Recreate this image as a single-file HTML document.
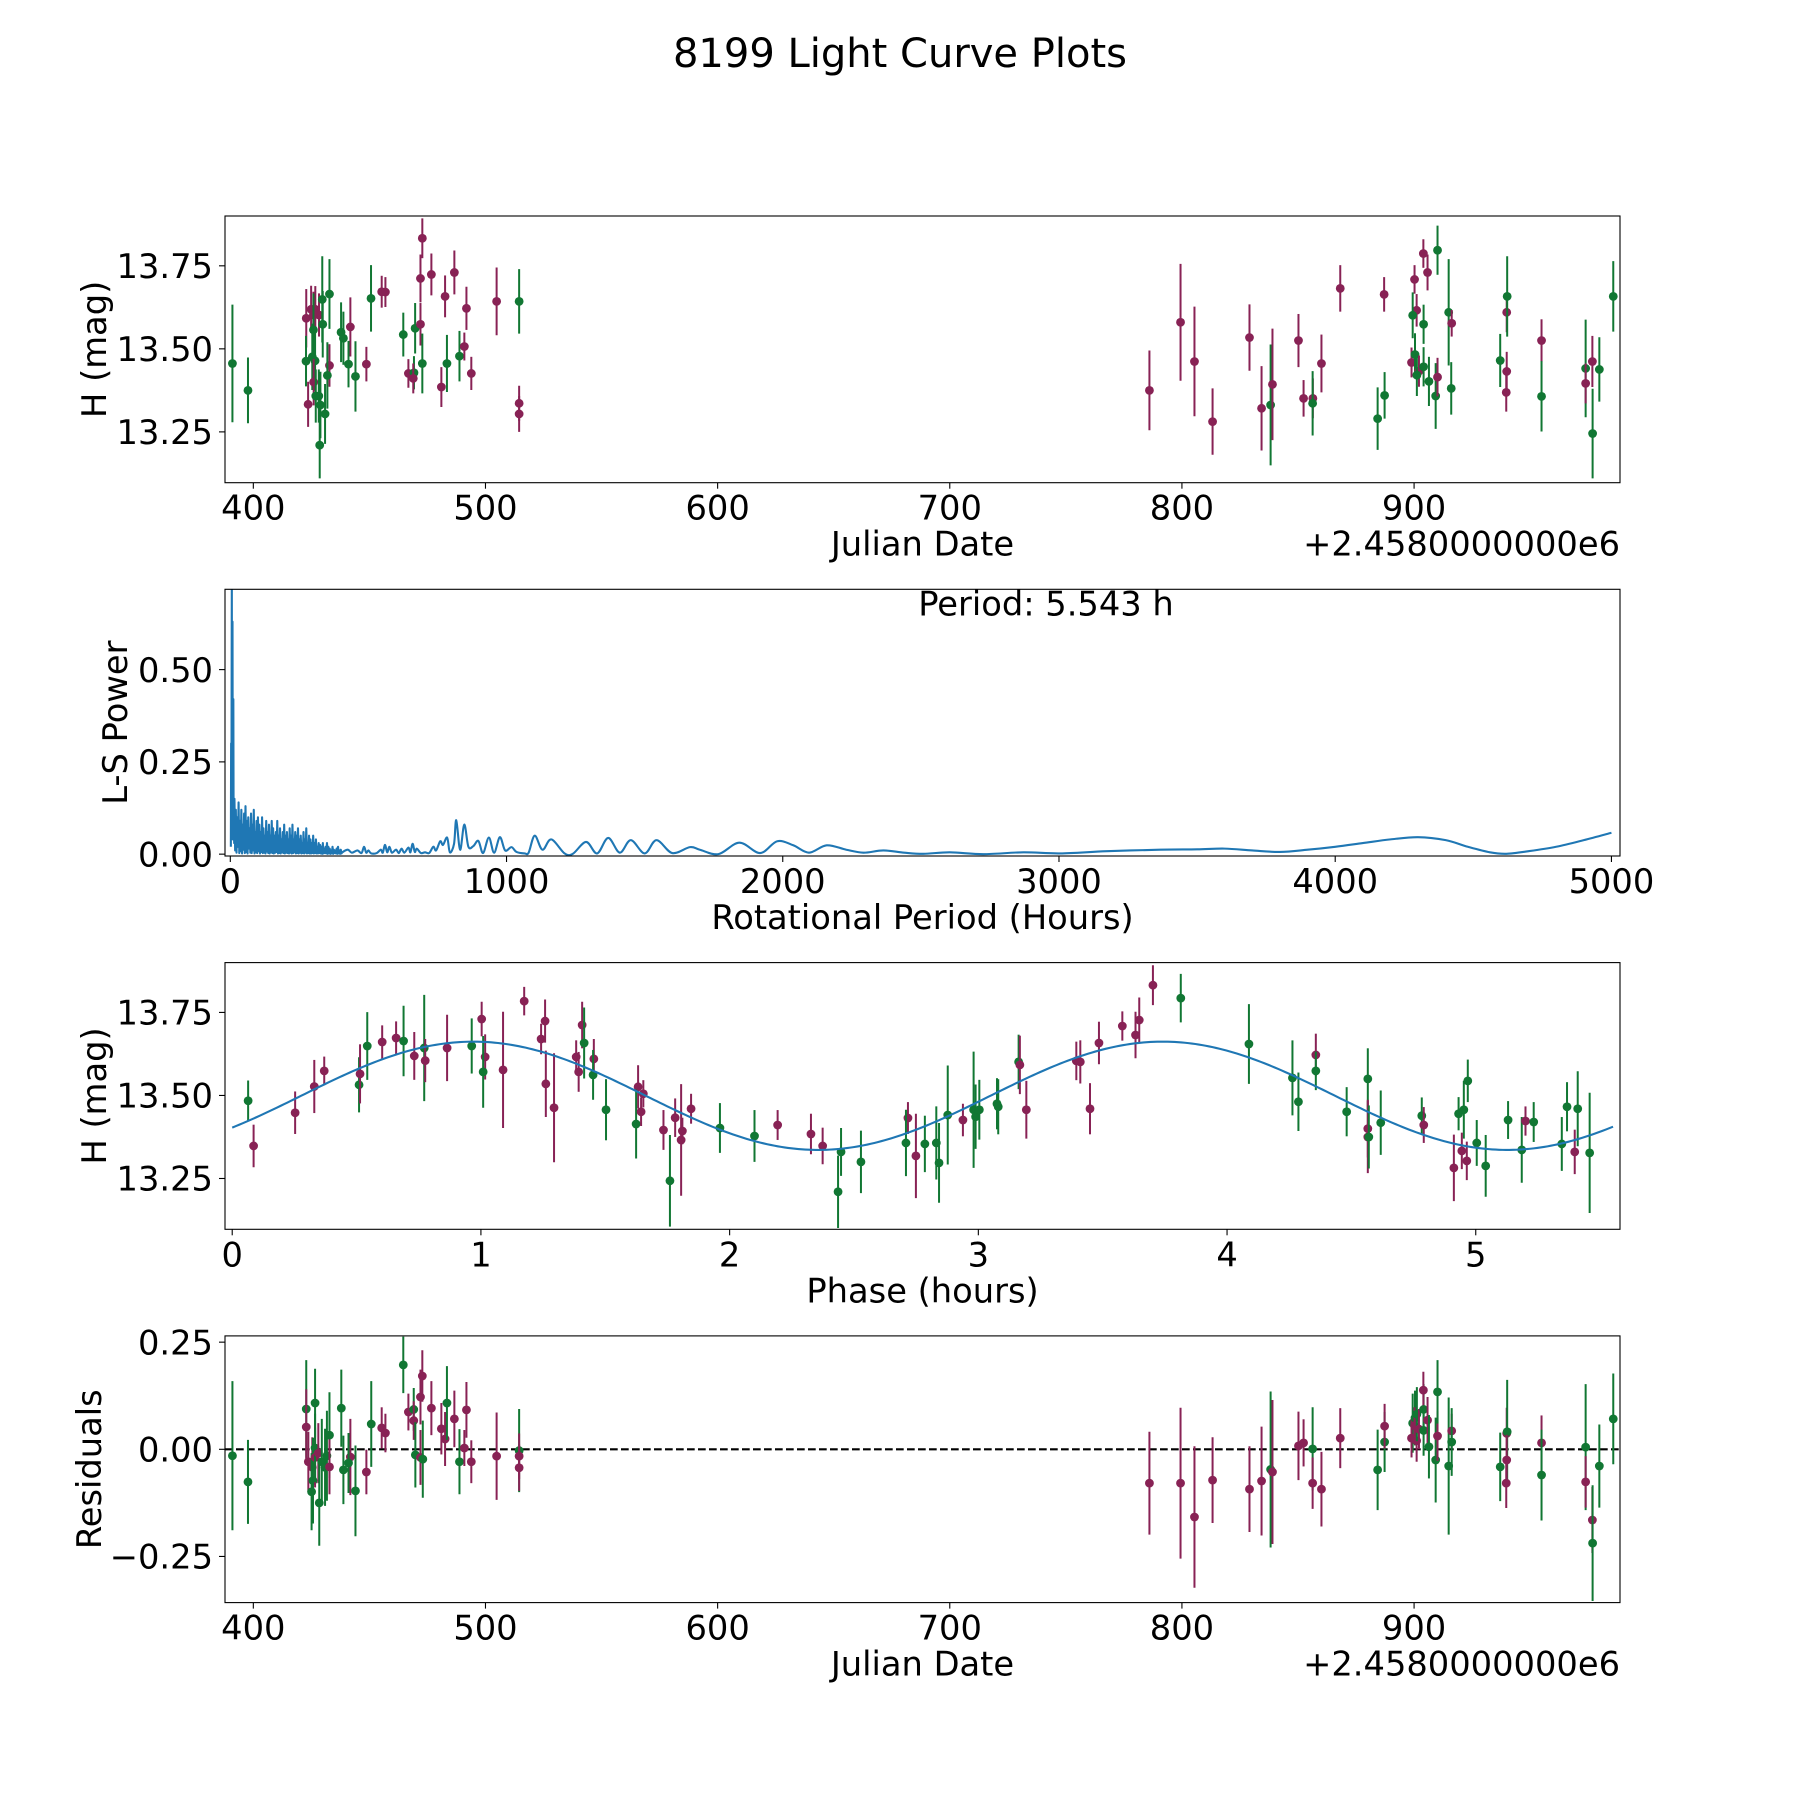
<!DOCTYPE html>
<html><head><meta charset="utf-8"><title>8199 Light Curve Plots</title>
<style>html,body{margin:0;padding:0;background:#fff}svg{display:block;font-family:"DejaVu Sans","Liberation Sans",sans-serif}</style>
</head><body>
<svg id="fig" xmlns="http://www.w3.org/2000/svg" width="1800" height="1800" viewBox="0 0 1800 1800">
<rect x="0" y="0" width="1800" height="1800" fill="#fff"/>
<text x="900" y="67" font-size="40" text-anchor="middle">8199 Light Curve Plots</text>
</svg>
<script>
// ---------- Panel 1: light curve (JD offset 2458000) ----------
const lcJD   = [391.0,397.7,422.8,422.7,423.6,424.9,426.7,425.9,428.3,425.9,425.4,426.6,426.0,426.9,428.2,428.6,429.7,429.9,428.9,430.9,432.8,432.8,431.9,437.8,438.8,441.8,441.0,444.0,448.7,450.7,455.3,456.9,464.6,466.8,469.2,468.9,469.7,472.0,472.0,472.8,472.8,476.7,481.0,482.6,483.4,486.6,488.8,490.9,491.8,493.9,504.8,514.5,514.5,514.5,
786.0,799.4,805.4,813.2,829.1,834.3,838.2,839.0,850.2,852.4,856.4,856.3,860.1,868.2,887.1,884.3,887.3,900.2,901.1,899.4,898.9,900.4,902.1,901.2,904.1,904.0,905.8,904.1,906.4,909.3,910.1,910.1,914.9,916.2,916.0,937.1,939.9,940.1,939.9,939.7,954.9,954.9,973.9,973.9,976.8,976.9,979.8,985.8];
const lcMag  = [13.456,13.375,13.592,13.463,13.333,13.619,13.619,13.602,13.602,13.557,13.476,13.464,13.400,13.358,13.358,13.210,13.649,13.574,13.331,13.304,13.665,13.450,13.420,13.550,13.532,13.566,13.454,13.417,13.454,13.652,13.672,13.671,13.543,13.426,13.428,13.411,13.562,13.574,13.712,13.833,13.456,13.724,13.385,13.658,13.456,13.730,13.478,13.507,13.622,13.426,13.643,13.643,13.336,13.304,
13.375,13.580,13.462,13.281,13.534,13.321,13.331,13.393,13.525,13.351,13.351,13.336,13.456,13.682,13.664,13.290,13.360,13.709,13.616,13.601,13.459,13.483,13.433,13.421,13.574,13.787,13.730,13.446,13.402,13.358,13.415,13.797,13.610,13.577,13.381,13.465,13.610,13.658,13.432,13.369,13.525,13.357,13.441,13.396,13.462,13.245,13.438,13.658];
const lcErr  = [0.177,0.099,0.088,0.076,0.068,0.071,0.07,0.07,0.065,0.11,0.1,0.09,0.07,0.08,0.08,0.1,0.13,0.1,0.1,0.09,0.105,0.064,0.1,0.09,0.08,0.089,0.07,0.106,0.052,0.1,0.048,0.045,0.066,0.043,0.05,0.045,0.076,0.064,0.072,0.06,0.09,0.063,0.06,0.063,0.086,0.066,0.076,0.042,0.065,0.05,0.102,0.097,0.053,0.054,
0.12,0.176,0.165,0.1,0.1,0.127,0.182,0.168,0.08,0.055,0.06,0.097,0.087,0.07,0.052,0.094,0.07,0.043,0.049,0.069,0.045,0.064,0.047,0.063,0.059,0.043,0.054,0.059,0.074,0.099,0.058,0.074,0.16,0.04,0.079,0.08,0.06,0.121,0.059,0.058,0.064,0.106,0.147,0.06,0.077,0.135,0.097,0.106];
const lcBand = ["g","g","m","g","m","m","m","m","m","g","g","g","m","g","g","g","g","g","g","g","g","m","g","g","g","m","g","g","m","g","m","m","g","m","g","m","g","m","m","m","g","m","m","m","g","m","g","m","m","m","m","g","m","m",
"m","m","m","m","m","m","g","m","m","m","m","g","m","m","m","g","g","m","m","g","m","g","m","g","g","m","m","g","g","g","m","g","g","m","g","g","m","g","m","m","m","g","g","m","m","g","g","g"];

// ---------- Panel 2: Lomb-Scargle periodogram ----------
const lsHeadPeriod = [2,3,4,5,5.543,6,7,8,9,10,11,12,13,14];
const lsHeadPower  = [0.02,0.30,0.08,0.55,0.74,0.20,0.05,0.63,0.04,0.15,0.42,0.06,0.14,0.03];
const lsNoiseStart = 15, lsNoiseStep = 5;
const lsNoisePeaks = [.15,.12,.10,.14,.09,.12,.08,.11,
.13,.09,.10,.07,.11,.08,.12,.06,.09,.10,
.08,.06,.10,.07,.05,.09,.06,.08,.05,.09,
.07,.05,.06,.09,.05,.07,.04,.06,.08,.05,
.06,.04,.07,.05,.08,.04,.06,.05,.07,.04,
.05,.03,.06,.04,.07,.03,.05,.04,.03,.05,
.03,.04,.02,.03,.025,.02,.03,.015,.02,.03,
.02,.015,.01,.02,.012,.01,.015,.02,.01,.012];
const lsNoiseTroughs = [.01,.004,.02,.003,.008,.002,.012,.003,
.006,.002,.015,.004,.003,.01,.002,.005,.003,.008,
.002,.006,.003,.004,.002,.007,.003,.002,.005,.003,
.002,.004,.006,.002,.003,.002,.005,.003,.002,.004,
.003,.002,.004,.002,.003,.005,.002,.003,.002,.004,
.002,.003,.002,.004,.002,.003,.002,.002,.003,.002,
.003,.002,.002,.003,.002,.001,.002,.003,.002,.001,
.002,.001,.002,.001,.003,.002,.001,.002,.001,.002];
const lsTailPeriod = [405,425,440,460,475,484,492,500,510,530,545,552,560,568,576,585,600,610,620,630,645,652,660,668,675,690,705,720,735,745,760,770,785,795,810,818,832,847,862,880,898,915,936,955,976,995,1018,1036,1066,1080,1102,1130,1162,1210,1240,1288,1328,1368,1410,1450,1500,1543,1600,1664,1700,1767,1843,1918,1980,2038,2095,2159,2230,2292,2364,2440,2509,2605,2726,2871,3004,3173,3366,3500,3600,3700,3800,3900,4000,4100,4200,4300,4400,4480,4560,4620,4700,4800,4900,5000];
const lsTailPower  = [0.005,0.012,0.004,0.01,0.003,0.02,0.004,0.01,0.002,0.003,0.012,0.004,0.025,0.005,0.02,0.004,0.012,0.003,0.015,0.004,0.018,0.005,0.028,0.006,0.015,0.003,0.005,0.003,0.02,0.01,0.035,0.025,0.045,0.005,0.028,0.092,0.012,0.08,0.02,0.022,0.036,0.003,0.045,0.004,0.046,0.01,0.019,0.006,0.002,0.004,0.05,0.012,0.04,0.002,0.001,0.033,0.002,0.044,0.004,0.038,0.002,0.038,0.003,0.019,0.012,0.0,0.031,0.003,0.035,0.024,0.004,0.024,0.012,0.004,0.01,0.004,0.001,0.005,0.0,0.005,0.002,0.008,0.012,0.013,0.015,0.01,0.006,0.012,0.02,0.03,0.04,0.046,0.038,0.02,0.005,0.001,0.008,0.02,0.038,0.058];
const lsLabel = "Period: 5.543 h";

// ---------- Panel 3: phased light curve ----------
const phPhase = [0.064,0.086,0.253,0.330,0.370,0.510,0.514,0.543,0.603,0.659,0.689,0.732,0.772,0.776,0.864,0.963,1.003,1.017,1.009,1.089,1.174,1.242,1.258,1.261,1.294,1.383,1.393,1.407,1.415,1.454,1.451,1.503,1.632,1.653,1.624,1.644,1.734,1.760,1.781,1.810,1.805,1.845,
1.961,2.100,2.193,2.327,2.374,2.448,2.436,2.528,2.717,2.709,2.749,2.785,2.831,2.842,2.877,2.938,2.981,2.989,3.004,3.075,3.080,3.162,3.167,3.193,3.394,3.410,3.449,3.485,3.579,3.632,3.647,3.702,
3.814,4.088,4.263,4.287,4.357,4.357,4.481,4.566,4.566,4.566,4.570,4.618,4.783,4.791,4.912,4.931,4.952,4.944,4.964,4.968,5.004,5.040,5.130,5.185,5.200,5.233,5.346,5.367,5.398,5.410,5.458];
const phMag = [13.484,13.348,13.448,13.527,13.574,13.532,13.565,13.649,13.661,13.673,13.664,13.619,13.643,13.605,13.643,13.649,13.730,13.616,13.571,13.577,13.784,13.670,13.724,13.535,13.463,13.616,13.571,13.712,13.658,13.610,13.562,13.457,13.526,13.505,13.414,13.451,13.396,13.243,13.433,13.393,13.366,13.460,
13.402,13.378,13.411,13.384,13.348,13.330,13.210,13.300,13.432,13.357,13.318,13.354,13.357,13.297,13.441,13.426,13.457,13.436,13.457,13.475,13.466,13.601,13.592,13.457,13.604,13.601,13.460,13.658,13.709,13.682,13.727,13.832,
13.793,13.655,13.553,13.481,13.622,13.574,13.451,13.550,13.400,13.375,13.375,13.418,13.439,13.411,13.282,13.445,13.457,13.333,13.303,13.544,13.357,13.288,13.426,13.336,13.423,13.420,13.354,13.466,13.330,13.460,13.327];
const phErr = [0.061,0.064,0.064,0.08,0.043,0.083,0.089,0.102,0.05,0.05,0.106,0.072,0.16,0.065,0.1,0.083,0.052,0.068,0.108,0.175,0.043,0.046,0.065,0.1,0.164,0.05,0.06,0.07,0.107,0.06,0.075,0.092,0.065,0.041,0.104,0.043,0.06,0.138,0.058,0.04,0.168,0.045,
0.075,0.078,0.045,0.061,0.055,0.072,0.109,0.094,0.048,0.1,0.127,0.085,0.11,0.12,0.149,0.049,0.175,0.097,0.09,0.077,0.083,0.082,0.088,0.087,0.058,0.065,0.077,0.064,0.044,0.07,0.068,0.06,
0.073,0.12,0.113,0.088,0.064,0.058,0.074,0.092,0.087,0.109,0.095,0.097,0.055,0.054,0.1,0.05,0.087,0.055,0.058,0.064,0.069,0.093,0.057,0.099,0.044,0.06,0.081,0.074,0.067,0.113,0.181];
const phBand = ["g","m","m","m","m","g","m","g","m","m","g","m","g","m","m","g","m","m","g","m","m","m","m","m","m","m","m","m","g","m","g","g","m","m","g","m","m","g","m","m","m","m",
"g","g","m","m","m","g","g","g","m","g","m","g","g","g","g","m","g","g","g","g","g","g","m","m","m","m","m","m","m","m","m","m",
"g","g","g","g","m","g","g","g","m","m","g","g","g","m","m","g","g","m","m","g","g","g","g","g","m","g","g","g","m","g","g"];
const fitMean = 13.499, fitAmp = 0.163, fitPeriod = 2.7715, fitPhase0 = 0.277, fitStart = 0, fitEnd = 5.552;

// ---------- Panel 4: residuals ----------
const rsJD = [391.0,397.7,422.8,422.8,423.7,426.6,425.4,425.7,425.1,426.6,426.6,428.0,428.4,429.5,430.9,431.7,432.8,432.8,437.9,438.8,441.8,441.0,444.0,448.7,450.8,455.3,456.9,464.6,466.8,469.1,469.1,469.8,472.0,472.8,472.0,473.0,476.7,481.0,482.6,483.4,486.6,488.8,490.9,491.8,493.9,504.8,514.5,514.5,514.5,
786.0,799.4,805.4,813.2,829.1,834.3,838.2,839.0,850.2,852.4,856.3,856.3,860.1,868.2,884.3,887.3,887.3,899.4,898.9,900.4,900.2,901.1,901.2,902.1,904.1,904.0,904.1,905.8,906.4,909.3,910.1,910.1,914.9,916.2,916.2,937.1,939.9,940.1,939.9,939.7,954.9,954.9,973.9,973.9,976.8,976.9,979.8,985.8];
const rsVal = [-0.015,-0.076,0.094,0.052,-0.029,0.108,-0.042,-0.073,-0.099,-0.019,0.003,-0.009,-0.125,-0.029,-0.042,-0.015,0.033,-0.041,0.096,-0.048,-0.018,-0.032,-0.097,-0.053,0.059,0.05,0.038,0.197,0.087,0.093,0.067,-0.013,0.122,0.171,-0.019,-0.023,0.096,0.048,0.024,0.108,0.071,-0.029,0.003,0.092,-0.029,-0.016,-0.003,-0.016,-0.043,
-0.079,-0.079,-0.158,-0.072,-0.093,-0.074,-0.047,-0.053,0.008,0.015,0.001,-0.079,-0.093,0.026,-0.048,0.017,0.054,0.061,0.026,0.073,0.055,0.02,0.082,0.047,0.093,0.138,0.044,0.068,0.006,-0.025,0.031,0.134,-0.039,0.043,0.017,-0.041,0.037,0.041,-0.025,-0.079,0.015,-0.06,0.005,-0.076,-0.165,-0.219,-0.039,0.071];
const rsErr = [0.174,0.098,0.114,0.088,0.07,0.08,0.07,0.1,0.09,0.07,0.08,0.07,0.1,0.1,0.09,0.105,0.1,0.064,0.09,0.08,0.089,0.07,0.106,0.052,0.1,0.048,0.045,0.066,0.043,0.05,0.045,0.076,0.064,0.06,0.064,0.09,0.063,0.06,0.063,0.086,0.066,0.076,0.042,0.065,0.05,0.102,0.097,0.053,0.054,
0.12,0.176,0.165,0.1,0.1,0.127,0.182,0.168,0.08,0.055,0.097,0.06,0.087,0.07,0.094,0.07,0.052,0.069,0.045,0.064,0.043,0.049,0.063,0.047,0.059,0.043,0.059,0.054,0.074,0.099,0.058,0.074,0.16,0.04,0.079,0.08,0.06,0.121,0.059,0.058,0.064,0.106,0.147,0.06,0.077,0.135,0.097,0.106];
const rsBand = ["g","g","g","m","m","g","m","g","g","m","g","m","g","g","g","g","g","m","g","g","m","g","g","m","g","m","m","g","m","g","m","g","m","m","m","g","m","m","m","g","m","g","m","m","m","m","g","m","m",
"m","m","m","m","m","m","g","m","m","m","g","m","m","m","g","g","m","g","m","g","m","m","g","m","g","m","g","m","g","g","m","g","g","m","g","g","m","g","m","m","m","g","g","m","m","g","g","g"];

// ---------- Tick labels ----------
const jdTicks = [400,500,600,700,800,900];
const magTicks = [13.25,13.50,13.75];
const magTickLabels = ["13.25","13.50","13.75"];
const lsXTicks = [0,1000,2000,3000,4000,5000];
const lsYTicks = [0,0.25,0.5];
const lsYTickLabels = ["0.00","0.25","0.50"];
const phTicks = [0,1,2,3,4,5];
const rsTicks = [-0.25,0,0.25];
const rsTickLabels = ["\u22120.25","0.00","0.25"];

// ---------- drawing ----------
const NS = "http://www.w3.org/2000/svg";
const svg = document.getElementById("fig");
const COL = {m:"#882255", g:"#117733"};
const FS = 33.7;
function mk(tag, attrs, parent){ const e=document.createElementNS(NS,tag); for(const k in attrs) e.setAttribute(k,attrs[k]); (parent||svg).appendChild(e); return e; }

const L=225, R=1620, H=266.7;
function panel(i, xmin, xmax, ymin, ymax, name){
  const top = 216 + i*373.3, bot = top + H;
  const g = mk("g",{});
  
  
  const cp = mk("clipPath",{id:"clip"+i}, g);
  mk("rect",{x:L,y:top,width:R-L,height:H}, cp);
  const data = mk("g",{"clip-path":"url(#clip"+i+")"}, g);
  
  
  return {g, data, top, bot,
    sx: v => L + (v-xmin)/(xmax-xmin)*(R-L),
    sy: v => bot - (v-ymin)/(ymax-ymin)*H};
}
function frame(p, name){
  const r = mk("rect",{x:L,y:p.top,width:R-L,height:H,fill:"none",stroke:"#000","stroke-width":1.1}, p.g);
  
  
}
function xTicks(p, vals, labels, name){
  vals.forEach((v,k)=>{
    const x=p.sx(v);
    const t = mk("line",{x1:x,x2:x,y1:p.bot,y2:p.bot+6,stroke:"#000","stroke-width":1.1}, p.g);
    
    
    const tx = mk("text",{x:x,y:p.bot+37,"font-size":FS,"text-anchor":"middle"}, p.g);
    tx.textContent = labels[k];
    
    
  });
}
function yTicks(p, vals, labels, name){
  vals.forEach((v,k)=>{
    const y=p.sy(v);
    const t = mk("line",{x1:L-6,x2:L,y1:y,y2:y,stroke:"#000","stroke-width":1.1}, p.g);
    
    
    const tx = mk("text",{x:L-12,y:y+12.2,"font-size":FS,"text-anchor":"end"}, p.g);
    tx.textContent = labels[k];
    
    
  });
}
function xLabel(p, txt, name){
  const t = mk("text",{x:(L+R)/2,y:p.bot+73,"font-size":FS,"text-anchor":"middle"}, p.g);
  t.textContent = txt;
  
  
}
function offsetText(p, name){
  const t = mk("text",{x:R,y:p.bot+73,"font-size":FS,"text-anchor":"end"}, p.g);
  t.textContent = "+2.4580000000e6";
  
  
}
function yLabel(p, txt, bx, name){
  const cy=(p.top+p.bot)/2;
  const t = mk("text",{x:bx,y:cy,"font-size":FS,"text-anchor":"middle",transform:"rotate(-90 "+bx+" "+cy+")"}, p.g);
  t.textContent = txt;
  
  
}
function errPoints(p, xs, ys, es, bands, name){
  xs.forEach((xv,k)=>{
    const x=p.sx(xv), c=COL[bands[k]];
    const b = mk("line",{x1:x,x2:x,y1:p.sy(ys[k]+es[k]),y2:p.sy(ys[k]-es[k]),stroke:c,"stroke-width":2}, p.data);
    
    
    const d = mk("circle",{cx:x,cy:p.sy(ys[k]),r:4.4,fill:c}, p.data);
    
    
  });
}
function smoothPath(pts){
  let d = "M"+pts[0][0].toFixed(2)+","+pts[0][1].toFixed(2);
  for(let i=0;i<pts.length-1;i++){
    const p0=pts[Math.max(0,i-1)], p1=pts[i], p2=pts[i+1], p3=pts[Math.min(pts.length-1,i+2)];
    const c1x=p1[0]+(p2[0]-p0[0])/6, c1y=p1[1]+(p2[1]-p0[1])/6;
    const c2x=p2[0]-(p3[0]-p1[0])/6, c2y=p2[1]-(p3[1]-p1[1])/6;
    d += " C"+c1x.toFixed(2)+","+c1y.toFixed(2)+" "+c2x.toFixed(2)+","+c2y.toFixed(2)+" "+p2[0].toFixed(2)+","+p2[1].toFixed(2);
  }
  return d;
}

// Panel 1
const p1 = panel(0, 387.8, 988.7, 13.097, 13.900, "light-curve-panel");
errPoints(p1, lcJD, lcMag, lcErr, lcBand, "light-curve");
frame(p1,"light-curve");
xTicks(p1, jdTicks, jdTicks.map(String), "light-curve");
yTicks(p1, magTicks, magTickLabels, "light-curve");
xLabel(p1, "Julian Date", "light-curve");
offsetText(p1, "light-curve");
yLabel(p1, "H (mag)", 106, "light-curve");

// Panel 2
const p2 = panel(1, -19.2, 5031, -0.005, 0.7176, "periodogram-panel");
const lsP=[], lsV=[];
lsHeadPeriod.forEach((v,k)=>{lsP.push(v); lsV.push(lsHeadPower[k]);});
lsNoisePeaks.forEach((v,k)=>{
  lsP.push(lsNoiseStart + k*lsNoiseStep); lsV.push(v);
  lsP.push(lsNoiseStart + k*lsNoiseStep + lsNoiseStep/2); lsV.push(lsNoiseTroughs[k]);
});
const headCount = lsP.length;
lsTailPeriod.forEach((v,k)=>{lsP.push(v); lsV.push(lsTailPower[k]);});
const allPts = lsP.map((v,k)=>[p2.sx(v), p2.sy(lsV[k])]);
const headPts = allPts.slice(0, headCount+1);
const tailPts = allPts.slice(headCount);
const lsLine1 = mk("polyline",{points:headPts.map(q=>q[0].toFixed(2)+","+q[1].toFixed(2)).join(" "),fill:"none",stroke:"#1f77b4","stroke-width":2.1,"stroke-linejoin":"round"}, p2.data);


const lsLine2 = mk("path",{d:smoothPath(tailPts),fill:"none",stroke:"#1f77b4","stroke-width":2.1,"stroke-linejoin":"round"}, p2.data);


frame(p2,"periodogram");
xTicks(p2, lsXTicks, lsXTicks.map(String), "periodogram");
yTicks(p2, lsYTicks, lsYTickLabels, "periodogram");
xLabel(p2, "Rotational Period (Hours)", "periodogram");
yLabel(p2, "L-S Power", 127, "periodogram");
const pl = mk("text",{x:1046,y:p2.top+26,"font-size":FS,"text-anchor":"middle"}, p2.g);
pl.textContent = lsLabel;



// Panel 3
const p3 = panel(2, -0.029, 5.580, 13.097, 13.900, "phase-panel");
errPoints(p3, phPhase, phMag, phErr, phBand, "phase");
const fitPts=[];
for(let k=0;k<=400;k++){ const ph=fitStart+(fitEnd-fitStart)*k/400; fitPts.push(p3.sx(ph).toFixed(2)+","+p3.sy(fitMean+fitAmp*Math.sin(2*Math.PI*(ph-fitPhase0)/fitPeriod)).toFixed(2)); }
const fit = mk("polyline",{points:fitPts.join(" "),fill:"none",stroke:"#1f77b4","stroke-width":2.1}, p3.data);


frame(p3,"phase");
xTicks(p3, phTicks, phTicks.map(String), "phase");
yTicks(p3, magTicks, magTickLabels, "phase");
xLabel(p3, "Phase (hours)", "phase");
yLabel(p3, "H (mag)", 106, "phase");

// Panel 4
const p4 = panel(3, 387.8, 988.7, -0.3577, 0.2646, "residuals-panel");
const zl = mk("line",{x1:L,x2:R,y1:p4.sy(0),y2:p4.sy(0),stroke:"#000","stroke-width":2.1,"stroke-dasharray":"7.7,3.3"}, p4.data);


errPoints(p4, rsJD, rsVal, rsErr, rsBand, "residual");
frame(p4,"residuals");
xTicks(p4, jdTicks, jdTicks.map(String), "residuals");
yTicks(p4, rsTicks, rsTickLabels, "residuals");
xLabel(p4, "Julian Date", "residuals");
offsetText(p4, "residuals");
yLabel(p4, "Residuals", 101, "residuals");
</script>
</body></html>
